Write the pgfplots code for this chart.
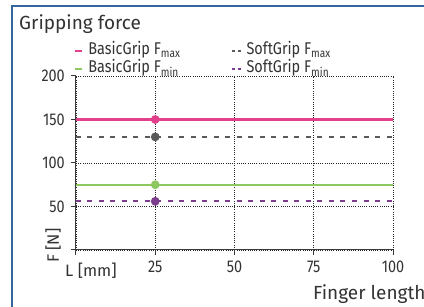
\documentclass[border=0pt]{standalone}
\usepackage{fontspec}
\setmainfont{Fira Sans}[FakeStretch=0.85]
\newfontfamily\widefont{Fira Sans}
\usepackage{pgfplots}
\pgfplotsset{compat=1.18}
\definecolor{cpink}{HTML}{E2408A}
\definecolor{cgray}{HTML}{5A5A5A}
\definecolor{cgreen}{HTML}{8CC85F}
\definecolor{cpurple}{HTML}{7D3D8E}
\definecolor{cframe}{HTML}{33669A}
\definecolor{caxis}{HTML}{3A3A3A}
\definecolor{ctext}{HTML}{333333}
\begin{document}
\fontsize{17}{20}\selectfont
\begin{tikzpicture}[x=1pt,y=1pt]
\useasboundingbox (0,0) rectangle (424,307);
\fill[white] (0,0) rectangle (424,307);
\draw[cframe, line width=2pt] (12,-5) -- (12,301) -- (430,301);
\node[anchor=base west, inner sep=0pt, font=\widefont\fontsize{19}{22}\selectfont, text=ctext] at (19,277.7) {Gripping force};
\node[anchor=base west, inner sep=0pt, font=\widefont\fontsize{16.5}{20}\selectfont, text=ctext] at (65,30.3) {L [mm]};
\node[anchor=base west, inner sep=0pt, rotate=90, font=\widefont\fontsize{16.5}{20}\selectfont, text=ctext] at (59,44) {F [N]};
\node[anchor=base west, inner sep=0pt, font=\widefont\fontsize{19}{22}\selectfont, text=ctext] at (313,7) {Finger length};
\begin{axis}[
  at={(76pt,57pt)}, anchor=south west,
  scale only axis, width=317pt, height=174pt,
  xmin=0, xmax=100, ymin=0, ymax=200,
  axis x line*=bottom, axis y line*=left,
  axis line style={caxis, line width=1pt},
  tick align=outside, major tick length=5pt,
  tick style={caxis, line width=1pt},
  xtick={0,25,50,75,100}, xticklabels={{},25,50,75,100},
  ytick={0,50,100,150,200}, yticklabels={{},50,100,150,200},
  /pgf/number format/assume math mode=true,
  ticklabel style={font=\fontsize{17}{20}\selectfont, text=ctext, inner sep=0pt},
  xticklabel shift=6pt, yticklabel shift=6pt,
  grid=major,
  major grid style={dash pattern=on 1pt off 1.2pt, line width=0.8pt, black!85},
  legend columns=2,
  legend cell align=left,
  legend style={at={(-0.0063,1.192)}, anchor=north west, draw=none, fill=none,
    inner sep=0pt, column sep=5pt, row sep=2pt,
    font=\fontsize{17}{20}\selectfont, text=ctext,
    nodes={inner sep=0pt, text height=12pt, text depth=4pt}},
]
\addplot[cpink, line width=2.2pt, mark=*, mark size=3.2pt, mark indices={2},
  legend image code/.code={\draw[cpink, line width=2.2pt] (0pt,0pt) -- (7pt,0pt);}]
  coordinates {(0,150)(25,150)(100,150)};
\addlegendentry{\makebox[137pt][l]{BasicGrip F\textsubscript{max}}}
\addplot[cgray, line width=2.2pt, dash pattern=on 5pt off 6.5pt, mark=*, mark size=3.2pt, mark indices={2}, mark options={solid},
  legend image code/.code={\draw[cgray, line width=2.2pt, dash pattern=on 3pt off 3pt] (0pt,0pt) -- (9pt,0pt);}]
  coordinates {(0,130)(25,130)(100,130)};
\addlegendentry{SoftGrip F\textsubscript{max}}
\addplot[cgreen, line width=2.2pt, mark=*, mark size=3.2pt, mark indices={2},
  legend image code/.code={\draw[cgreen, line width=2.2pt] (0pt,0pt) -- (7pt,0pt);}]
  coordinates {(0,75)(25,75)(100,75)};
\addlegendentry{\makebox[137pt][l]{BasicGrip F\textsubscript{min}}}
\addplot[cpurple, line width=2.2pt, dash pattern=on 5pt off 6.5pt, mark=*, mark size=3.2pt, mark indices={2}, mark options={solid},
  legend image code/.code={\draw[cpurple, line width=2.2pt, dash pattern=on 3pt off 3pt] (0pt,0pt) -- (9pt,0pt);}]
  coordinates {(0,56)(25,56)(100,56)};
\addlegendentry{SoftGrip F\textsubscript{min}}
\end{axis}
\end{tikzpicture}
\end{document}
